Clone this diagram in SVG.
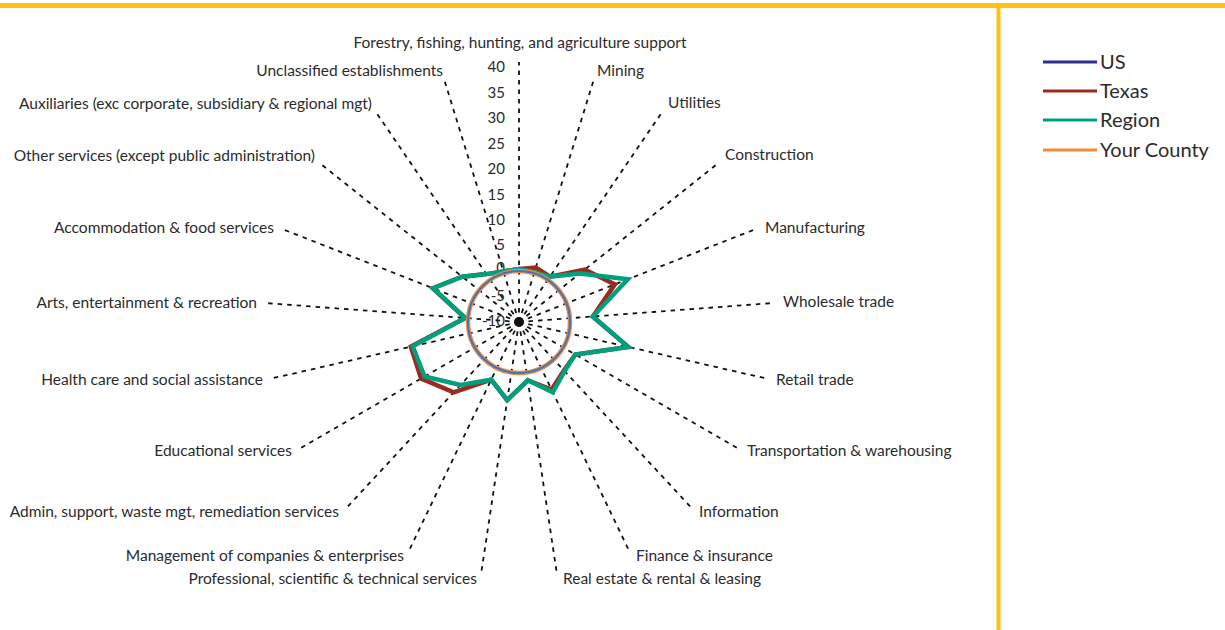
<svg xmlns="http://www.w3.org/2000/svg" width="1225" height="630" viewBox="0 0 1225 630">
<style>
text{font-family:Lato,"Open Sans","Liberation Sans",sans-serif;fill:#2b2b2b}
.lab{font-size:15.5px}
.tick{font-size:15px;text-anchor:end}
.leg{font-size:20px}
.spoke{stroke:#111;stroke-width:1.8;stroke-dasharray:4.5 5;fill:none}
.frame{stroke:#ffc20e;fill:none}
.series{fill:none;stroke-linejoin:miter}
</style>
<rect width="1225" height="630" fill="#fff"/>
<g id="frame">
<line class="frame" x1="0" y1="5.5" x2="1225" y2="5.5" stroke-width="5"/>
<line class="frame" x1="998.5" y1="5" x2="998.5" y2="630" stroke-width="4"/>
</g>
<g id="connectors">
<g id="spokes">
<line class="spoke" x1="519" y1="322" x2="519" y2="62"/>
<line class="spoke" x1="519" y1="322" x2="593.3" y2="81.2"/>
<line class="spoke" x1="519" y1="322" x2="660.9" y2="113.8"/>
<line class="spoke" x1="519" y1="322" x2="716" y2="164.9"/>
<line class="spoke" x1="519" y1="322" x2="753.6" y2="229.9"/>
<line class="spoke" x1="519" y1="322" x2="770.3" y2="303.2"/>
<line class="spoke" x1="519" y1="322" x2="764.7" y2="378.1"/>
<line class="spoke" x1="519" y1="322" x2="737.2" y2="448"/>
<line class="spoke" x1="519" y1="322" x2="690.4" y2="506.7"/>
<line class="spoke" x1="519" y1="322" x2="628.3" y2="549.1"/>
<line class="spoke" x1="519" y1="322" x2="556.5" y2="571.2"/>
<line class="spoke" x1="519" y1="322" x2="481.5" y2="571.2"/>
<line class="spoke" x1="519" y1="322" x2="409.7" y2="549.1"/>
<line class="spoke" x1="519" y1="322" x2="347.6" y2="506.7"/>
<line class="spoke" x1="519" y1="322" x2="300.8" y2="448"/>
<line class="spoke" x1="519" y1="322" x2="273.3" y2="378.1"/>
<line class="spoke" x1="519" y1="322" x2="267.7" y2="303.2"/>
<line class="spoke" x1="519" y1="322" x2="284.4" y2="229.9"/>
<line class="spoke" x1="519" y1="322" x2="322" y2="164.9"/>
<line class="spoke" x1="519" y1="322" x2="377.1" y2="113.8"/>
<line class="spoke" x1="519" y1="322" x2="444.7" y2="81.2"/>
</g>
<circle cx="519" cy="322" r="5" fill="#111"/>
</g>
<g id="axis-labels">
<text class="tick" x="505" y="72">40</text>
<text class="tick" x="505" y="98">35</text>
<text class="tick" x="505" y="123">30</text>
<text class="tick" x="505" y="149">25</text>
<text class="tick" x="505" y="174">20</text>
<text class="tick" x="505" y="200">15</text>
<text class="tick" x="505" y="225">10</text>
<text class="tick" x="505" y="250">5</text>
<text class="tick" x="505" y="273">0</text>
<text class="tick" x="505" y="301">-5</text>
<text class="tick" x="505" y="326">-10</text>
</g>
<g id="series">
<polygon id="texas" class="series" stroke="#9c2b1f" stroke-width="4.5" points="519,269 535.8,267.5 550,276.6 584.7,269.6 614.9,284.4 592.8,316.5 628.2,346.9 575.3,354.5 563.9,370.4 551.5,389.6 527.8,380.3 507.2,400.1 491.2,379.7 453.7,392.4 421.1,378.5 410.8,346.7 465.2,318 432.9,288.2 462.2,276.7 486.3,274.1 503.4,271.4"/>
<polygon id="region" class="series" stroke="#00a07e" stroke-width="4.5" points="519,269 534.3,272.3 550,276.6 580,273.4 627.9,279.3 592.8,316.5 628.2,346.9 575.3,354.5 564.6,371.1 552.8,392.3 527.8,380.3 507.2,400.1 491.2,379.7 460.5,385 424.6,376.5 412.7,346.3 465.2,318 432.9,288.2 462.2,276.7 486.3,274.1 503.4,271.4"/>
<circle id="your-county" cx="519" cy="322" r="51" fill="none" stroke="#f08a3a" stroke-width="4.5"/>
<circle id="us" cx="519" cy="322" r="51" fill="none" stroke="#3a78c6" stroke-width="2"/>
</g>
<g id="category-labels">
<text class="lab" x="520" y="48" text-anchor="middle">Forestry, fishing, hunting, and agriculture support</text>
<text class="lab" x="597" y="76">Mining</text>
<text class="lab" x="668" y="108">Utilities</text>
<text class="lab" x="725" y="160">Construction</text>
<text class="lab" x="765" y="233">Manufacturing</text>
<text class="lab" x="783" y="307">Wholesale trade</text>
<text class="lab" x="776" y="385">Retail trade</text>
<text class="lab" x="747" y="456">Transportation &amp; warehousing</text>
<text class="lab" x="699" y="517">Information</text>
<text class="lab" x="636" y="561">Finance &amp; insurance</text>
<text class="lab" x="563" y="584">Real estate &amp; rental &amp; leasing</text>
<text class="lab" x="477" y="584" text-anchor="end">Professional, scientific &amp; technical services</text>
<text class="lab" x="404" y="561" text-anchor="end">Management of companies &amp; enterprises</text>
<text class="lab" x="339" y="517" text-anchor="end">Admin, support, waste mgt, remediation services</text>
<text class="lab" x="292" y="456" text-anchor="end">Educational services</text>
<text class="lab" x="263" y="385" text-anchor="end">Health care and social assistance</text>
<text class="lab" x="257" y="308" text-anchor="end">Arts, entertainment &amp; recreation</text>
<text class="lab" x="274" y="233" text-anchor="end">Accommodation &amp; food services</text>
<text class="lab" x="315" y="161" text-anchor="end">Other services (except public administration)</text>
<text class="lab" x="372" y="109" text-anchor="end">Auxiliaries (exc corporate, subsidiary &amp; regional mgt)</text>
<text class="lab" x="443" y="76" text-anchor="end">Unclassified establishments</text>
</g>
<g id="legend">
<g id="legend-us"><line x1="1043" y1="62" x2="1097" y2="62" stroke="#2e3192" stroke-width="3"/><text class="leg" x="1100" y="69">US</text></g>
<g id="legend-texas"><line x1="1043" y1="91" x2="1097" y2="91" stroke="#9c2b1f" stroke-width="3"/><text class="leg" x="1100" y="98">Texas</text></g>
<g id="legend-region"><line x1="1043" y1="120" x2="1097" y2="120" stroke="#00a07e" stroke-width="3"/><text class="leg" x="1100" y="127">Region</text></g>
<g id="legend-county"><line x1="1043" y1="150" x2="1097" y2="150" stroke="#f08a3a" stroke-width="3"/><text class="leg" x="1100" y="157">Your County</text></g>
</g>
</svg>
